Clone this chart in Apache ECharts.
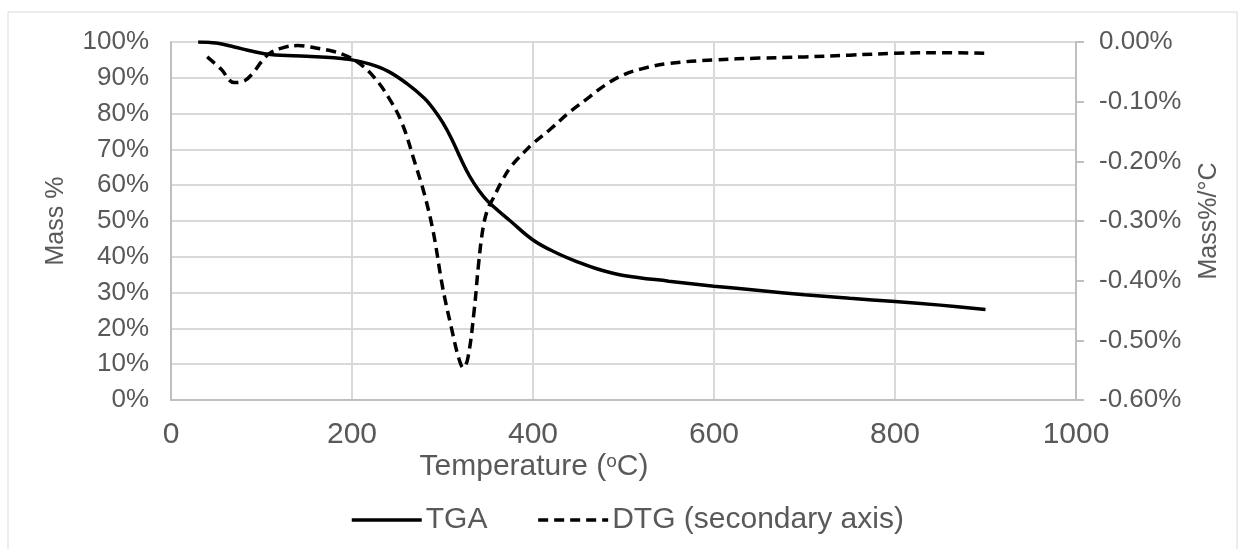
<!DOCTYPE html>
<html>
<head>
<meta charset="utf-8">
<script src="https://cdn.jsdelivr.net/npm/echarts@6/dist/echarts.min.js"></script>
<style>
html,body{margin:0;padding:0;background:#fff;}
#c{width:1245px;height:549px;}
</style>
</head>
<body>
<div id="c"></div>
<script>
// Temperature (°C) and TGA mass (%)
const tgaTemp = [30,50,70,90,110,150,180,200,220,240,260,280,290,300,310,320,330,340,350,375,400,425,450,475,500,550,600,650,700,750,800,850,900];
const tgaMass = [100,99.7,98.6,97.4,96.5,96.0,95.6,95.0,93.8,91.8,88.5,84.3,81.3,77.6,73.0,67.5,62.5,58.6,55.5,50,44.7,41.2,38.5,36.3,34.8,33.2,31.8,30.6,29.4,28.4,27.5,26.5,25.3];
// DTG (mass %/°C), secondary axis
const dtgTemp = [40,55,70,80,90,100,110,125,140,160,180,195,210,225,240,255,270,280,290,300,310,318,323,328,335,340,345,350,356,365,375,390,400,420,440,460,480,500,520,550,600,650,700,750,800,850,900];
const dtgVal = [-0.025,-0.045,-0.068,-0.066,-0.053,-0.033,-0.018,-0.009,-0.006,-0.010,-0.016,-0.024,-0.038,-0.060,-0.092,-0.135,-0.205,-0.255,-0.320,-0.410,-0.480,-0.530,-0.546,-0.530,-0.450,-0.370,-0.310,-0.280,-0.262,-0.235,-0.210,-0.185,-0.170,-0.145,-0.118,-0.095,-0.072,-0.055,-0.045,-0.036,-0.030,-0.027,-0.025,-0.022,-0.019,-0.018,-0.019];
const xTicks = {min:0, max:1000, interval:200};
const leftTicks = {min:0, max:100, interval:10};
const rightTicks = {min:-0.6, max:0, interval:0.1};

const FONT = '"Liberation Sans", Arial, sans-serif';
const TXT = '#595959';
const chart = echarts.init(document.getElementById('c'));
chart.setOption({
  animation:false,
  backgroundColor:'#fff',
  textStyle:{fontFamily:FONT},
  grid:{left:171,right:169,top:42,bottom:149},
  graphic:[
    {type:'rect',shape:{x:8,y:12,width:1229,height:560},style:{fill:'none',stroke:'#d9d9d9',lineWidth:1},silent:true,z:-10},
    {type:'text',x:56,y:221,rotation:Math.PI/2,style:{text:'Mass %',fontSize:25,fontFamily:FONT,fill:TXT,textAlign:'center',textVerticalAlign:'middle'}},
    {type:'text',x:1209,y:221,rotation:Math.PI/2,style:{text:'Mass%/°C',fontSize:25,fontFamily:FONT,fill:TXT,textAlign:'center',textVerticalAlign:'middle'}},
    {type:'text',x:534,y:467,style:{rich:{n:{fontSize:30,fontFamily:FONT,fill:TXT},s:{fontSize:19,fontFamily:FONT,fill:TXT,verticalAlign:'top',padding:[0,0,10,0]}},text:'{n|Temperature (}{s|o}{n|C)}',textAlign:'center',textVerticalAlign:'middle'}}
  ],
  legend:{
    left:350, top:505, padding:0, itemWidth:70, itemHeight:14, itemGap:49,
    itemStyle:{opacity:0},
    lineStyle:{width:3.5},
    textStyle:{fontSize:30,color:TXT,fontFamily:FONT,padding:[0,0,0,-1]},
    data:['TGA','DTG (secondary axis)']
  },
  xAxis:{
    type:'value', min:xTicks.min, max:xTicks.max, interval:xTicks.interval,
    axisLine:{show:true,lineStyle:{color:'#bfbfbf',width:2}},
    axisTick:{show:false},
    axisLabel:{fontSize:30,color:TXT,margin:20,fontFamily:FONT,formatter:v=>String(v)},
    splitLine:{show:true,lineStyle:{color:'#d9d9d9',width:2}}
  },
  yAxis:[
    {type:'value', min:leftTicks.min, max:leftTicks.max, interval:leftTicks.interval,
     axisLine:{show:true,lineStyle:{color:'#bfbfbf',width:2}},
     axisTick:{show:false},
     axisLabel:{fontSize:26,color:TXT,margin:22,fontFamily:FONT,formatter:v=>v+'%'},
     splitLine:{show:true,lineStyle:{color:'#d9d9d9',width:2}}},
    {type:'value', position:'right', min:rightTicks.min, max:rightTicks.max, interval:rightTicks.interval,
     axisLine:{show:true,lineStyle:{color:'#bfbfbf',width:2}},
     axisTick:{show:true,length:8,lineStyle:{color:'#bfbfbf',width:2}},
     axisLabel:{fontSize:26,color:TXT,margin:23,fontFamily:FONT,formatter:v=>v.toFixed(2)+'%'},
     splitLine:{show:false}}
  ],
  series:[
    {name:'TGA',type:'line',yAxisIndex:0,smooth:0.4,symbol:'none',
     data:tgaTemp.map((t,i)=>[t,tgaMass[i]]),
     lineStyle:{color:'#000',width:3.5,type:'solid'},itemStyle:{color:'#000'}},
    {name:'DTG (secondary axis)',type:'line',yAxisIndex:1,smooth:0.4,symbol:'none',
     data:dtgTemp.map((t,i)=>[t,dtgVal[i]]),
     lineStyle:{color:'#000',width:3.5,type:[10,6]},itemStyle:{color:'#000'}}
  ]
});
</script>
</body>
</html>
